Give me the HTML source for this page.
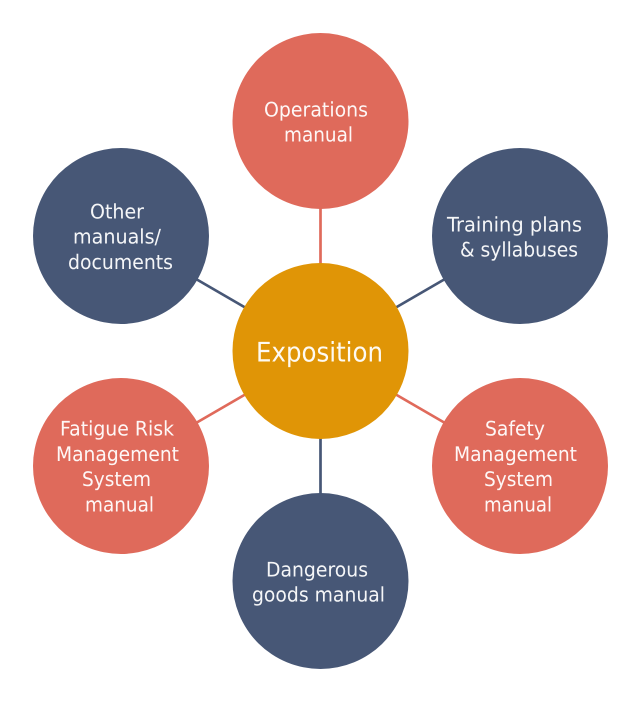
<!DOCTYPE html>
<html><head><meta charset="utf-8"><style>
html,body{margin:0;padding:0;background:#fff}
svg{display:block}
text{font-family:"DejaVu Sans",sans-serif;font-size:20px;fill:#fff;fill-opacity:.95;text-anchor:middle;text-rendering:geometricPrecision}
</style></head><body>
<svg width="640" height="701" viewBox="0 0 640 701" xmlns="http://www.w3.org/2000/svg">
<g stroke-width="2.7" fill="none">
<line x1="320.5" y1="205" x2="320.5" y2="267" stroke="#e06a5b"/>
<line x1="320.5" y1="435" x2="320.5" y2="497" stroke="#475776"/>
<line x1="196" y1="279" x2="246" y2="308" stroke="#475776"/>
<line x1="445" y1="279" x2="395" y2="308" stroke="#475776"/>
<line x1="196" y1="423" x2="246" y2="394" stroke="#e06a5b"/>
<line x1="445" y1="423" x2="395" y2="394" stroke="#e06a5b"/>
</g>
<circle cx="320.5" cy="121" r="88" fill="#df6a5b"/>
<circle cx="520" cy="236" r="88" fill="#475776"/>
<circle cx="520" cy="466" r="88" fill="#df6a5b"/>
<circle cx="320.5" cy="581" r="88" fill="#475776"/>
<circle cx="121" cy="466" r="88" fill="#df6a5b"/>
<circle cx="121" cy="236" r="88" fill="#475776"/>
<circle cx="320.5" cy="351" r="88" fill="#e09506"/>
<text x="316" y="116.500" textLength="104" lengthAdjust="spacingAndGlyphs">Operations</text>
<text x="318.500" y="141.500" textLength="69" lengthAdjust="spacingAndGlyphs">manual</text>
<text x="514.500" y="231.500" textLength="135" lengthAdjust="spacingAndGlyphs">Training plans</text>
<text x="519" y="256.500" textLength="118" lengthAdjust="spacingAndGlyphs">&amp; syllabuses</text>
<text x="515" y="435.500" textLength="60" lengthAdjust="spacingAndGlyphs">Safety</text>
<text x="515.500" y="461" textLength="123" lengthAdjust="spacingAndGlyphs">Management</text>
<text x="518.500" y="486" textLength="69" lengthAdjust="spacingAndGlyphs">System</text>
<text x="518" y="511.500" textLength="68" lengthAdjust="spacingAndGlyphs">manual</text>
<text x="317" y="576.500" textLength="102" lengthAdjust="spacingAndGlyphs">Dangerous</text>
<text x="318.500" y="601.500" textLength="133" lengthAdjust="spacingAndGlyphs">goods manual</text>
<text x="117" y="435.500" textLength="114" lengthAdjust="spacingAndGlyphs">Fatigue Risk</text>
<text x="117.500" y="461" textLength="123" lengthAdjust="spacingAndGlyphs">Management</text>
<text x="116.500" y="486" textLength="69" lengthAdjust="spacingAndGlyphs">System</text>
<text x="119.500" y="511.500" textLength="69" lengthAdjust="spacingAndGlyphs">manual</text>
<text x="117" y="218.500" textLength="54" lengthAdjust="spacingAndGlyphs">Other</text>
<text x="117" y="243.500" textLength="88" lengthAdjust="spacingAndGlyphs">manuals/</text>
<text x="120.500" y="269" textLength="105" lengthAdjust="spacingAndGlyphs">documents</text>
<text x="319.500" y="361.500" textLength="127" lengthAdjust="spacingAndGlyphs" style="font-size:27px">Exposition</text>
</svg>
</body></html>
